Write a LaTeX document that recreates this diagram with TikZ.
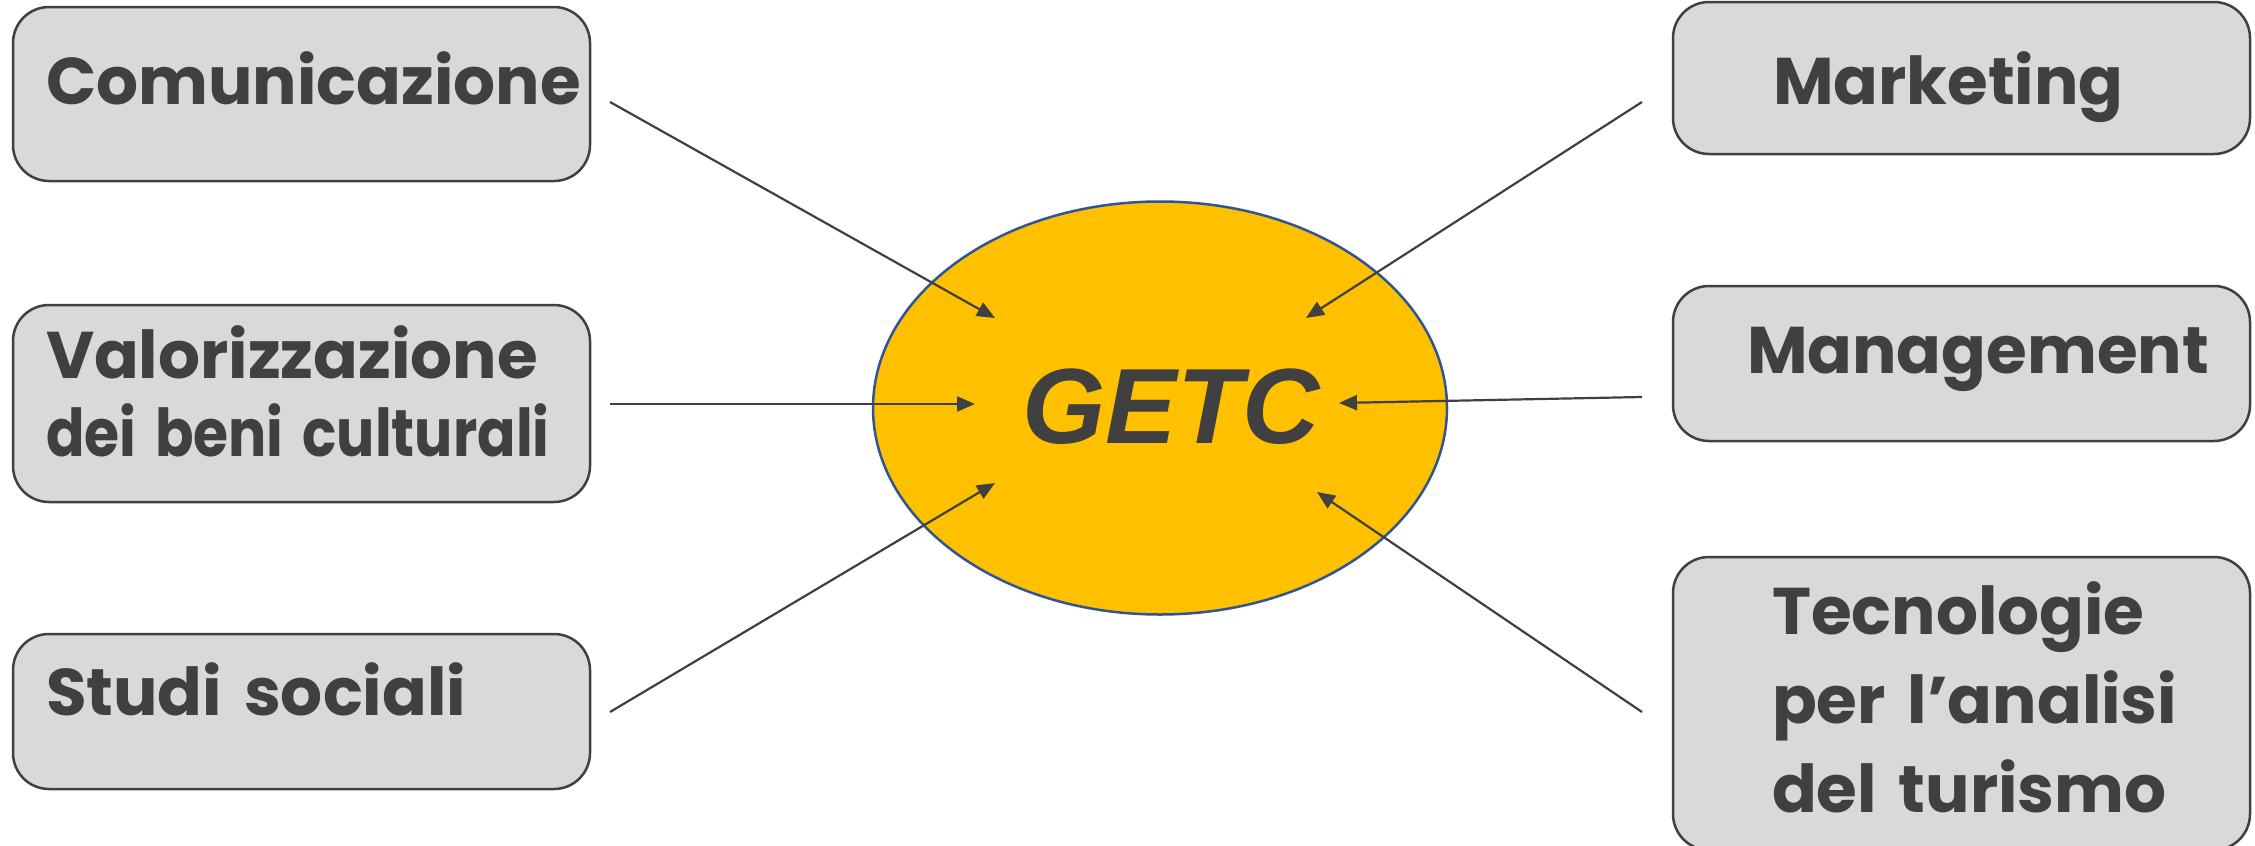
\documentclass[tikz,border=0pt]{standalone}
\usepackage{fontspec}
\usepackage{xcolor}
\usepackage{graphicx}
\setmainfont{Poppins}
\newfontfamily\getcfont{Liberation Sans}
\usetikzlibrary{shapes.geometric}
\usetikzlibrary{arrows.meta}

\definecolor{boxgray}{HTML}{D9D9D9}
\definecolor{inkgray}{HTML}{404040}
\definecolor{getcgold}{HTML}{FFC000}
\definecolor{getcblue}{HTML}{2F5597}

% extra depth under the last line, lifts the text in its box
\newcommand{\lift}[1]{\rule[-#1]{0pt}{0pt}}
% extra height over the first line, drops the text in its box
\newcommand{\drop}[1]{\rule{0pt}{#1}}

\begin{document}
\begin{tikzpicture}[x=1pt, y=-1pt,
    area/.style={draw=inkgray, line width=2.5pt, fill=boxgray,
      rounded corners=36pt, minimum width=577pt, text width=#1,
      inner ysep=0pt, align=left, text=inkgray,
      execute at begin node={\hyphenpenalty=10000\relax},
      font=\fontsize{66}{78}\selectfont\bfseries},
    feed/.style={draw=inkgray, line width=2.2pt,
      -{Triangle[length=18pt, width=15pt]}}]
    \path [use as bounding box]
      (0, 0) rectangle (2255, 846);

    % centre
    \node[ellipse, draw=getcblue, line width=2.5pt, fill=getcgold,
      minimum width=574pt, minimum height=413pt, text=inkgray,
      font=\getcfont\fontsize{107}{120}\selectfont\bfseries\itshape]
      (getc) at (1160, 408) {\kern22pt GETC\lift{4pt}};

    % fields on the left
    \node[area=511pt, minimum height=174pt, inner xsep=33pt]
      (com) at (301.5, 94) {Comunicazione\lift{32pt}};
    \node[area=511pt, minimum height=197pt, inner xsep=33pt]
      (val) at (301.5, 403.5)
      {Valorizzazione\\\scalebox{0.86}[1]{dei beni culturali}\lift{24pt}};
    \node[area=511pt, minimum height=155pt, inner xsep=33pt]
      (stu) at (301.5, 711.5) {Studi~sociali\lift{44pt}};

    % fields on the right
    \node[area=377pt, minimum height=152pt, inner xsep=99pt]
      (mkt) at (1961.5, 78) {\drop{72pt}Marketing};
    \node[area=429pt, minimum height=155pt, inner xsep=73pt]
      (man) at (1961.5, 363.5) {Management\lift{26pt}};
    \node[area=379pt, minimum height=293pt, inner xsep=98pt]
      (tec) at (1961.5, 703.5)
      {Tecnologie\\[11pt]per~l'analisi\\[11pt]del~turismo\lift{12pt}};

    \coordinate (comT) at (610, 102);
    \coordinate (valT) at (610, 404);
    \coordinate (stuT) at (610, 712);
    \coordinate (mktT) at (1642, 102);
    \coordinate (manT) at (1642, 397);
    \coordinate (tecT) at (1642, 712);

    \draw[feed] (comT) -- ([shift={(-165, -90)}]getc.center);
    \draw[feed] (valT) -- ([shift={(-185, -4)}]getc.center);
    \draw[feed] (stuT) -- ([shift={(-165, 75)}]getc.center);
    \draw[feed] (mktT) -- ([shift={(146, -90)}]getc.center);
    \draw[feed] (manT) -- ([shift={(179, -5)}]getc.center);
    \draw[feed] (tecT) -- ([shift={(157, 84)}]getc.center);

  \end{tikzpicture}
\end{document}
